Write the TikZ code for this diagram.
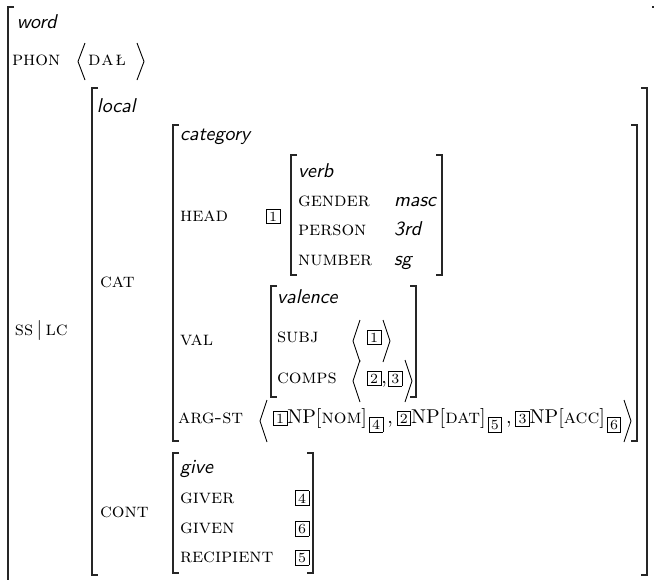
\documentclass[tikz,border=0pt]{standalone}
\usepackage{fontspec}
\newcommand\tg[1]{{\setlength\fboxsep{1.2pt}\setlength\fboxrule{0.4pt}\fbox{\scriptsize #1}}}
\newcommand\stg[1]{\kern1pt\raisebox{-3.2pt}{\tg{#1}}\kern2pt}
\newcommand\ty[1]{\textsf{\itshape #1}}
% left bracket: x, ytop, ybottom
\newcommand\brL[3]{\draw[brk] ({#1+6},#2) -- (#1,#2) -- (#1,#3) -- ({#1+6},#3);}
\newcommand\brR[3]{\draw[brk] ({#1-6},#2) -- (#1,#2) -- (#1,#3) -- ({#1-6},#3);}
\newcommand\anL[3]{\draw[ang] ({#1+7},#2) -- (#1,{(#2+#3)/2}) -- ({#1+7},#3);}
\newcommand\anR[3]{\draw[ang] (#1,#2) -- ({#1+7},{(#2+#3)/2}) -- (#1,#3);}
\begin{document}
\begin{tikzpicture}[x=0.5pt,y=-0.5pt,
  every node/.style={inner sep=0pt,outer sep=0pt,anchor=base west},
  brk/.style={line width=0.8pt,color=black!85},
  ang/.style={line width=0.45pt}]
\useasboundingbox (0,0) rectangle (654,579);
\clip (0,0) rectangle (654,579);
% outer
\brL{8}{7}{620}
\brR{658}{7}{620}
\node (word) at (17,28) {\ty{word}};
\node (phon) at (12,65) {\textsc{phon}};
\anL{78}{43}{80}
\node (dal) at (88,65) {\textsc{d}\kern0.5pt\textsc{a}\kern1pt\textsc{ł}};
\anR{137}{43}{80}
\node (sslc) at (15,335) {\textsc{ss}\,$|$\,\textsc{lc}};
% local
\brL{92}{88}{575}
\brR{647}{88}{575}
\node (local) at (97,112) {\ty{local}};
\node (cat) at (100,287) {\textsc{cat}};
\node (cont) at (100,517) {\textsc{cont}};
% category
\brL{173}{125}{441}
\brR{637}{125}{441}
\node (category) at (180,140) {\ty{category}};
\node (head) at (180,221) {\textsc{head}};
\node (t1) at (266,221) {\tg{1}};
% verb
\brL{291}{155}{275}
\brR{442}{155}{275}
\node (verb) at (298,177) {\ty{verb}};
\node (gender) at (298,206) {\textsc{gender}};
\node (masc) at (394,206) {\ty{masc}};
\node (person) at (298,235) {\textsc{person}};
\node (third) at (394,235) {\ty{3rd}};
\node (number) at (298,265) {\textsc{number}};
\node (sg) at (394,265) {\ty{sg}};
% valence
\node (val) at (180,345) {\textsc{val}};
\brL{271}{286}{397}
\brR{416}{286}{397}
\node (valence) at (277,303) {\ty{valence}};
\node (subj) at (277,342) {\textsc{subj}};
\anL{353}{320}{362}
\node (subjv) at (367,342) {\tg{1}};
\anR{383}{320}{362}
\node (comps) at (277,383) {\textsc{comps}};
\anL{353}{360}{402}
\node (compsv) at (367,383) {\tg{2},\kern0.6pt\tg{3}};
\anR{405}{360}{402}
% arg-st
\node (argst) at (178,423) {\textsc{arg-st}};
\anL{260}{400}{442}
\node (argv) at (273,423) {\tg{1}NP[\textsc{nom}]\stg{4},\kern1.9pt\tg{2}NP[\textsc{dat}]\stg{5},\kern1.9pt\tg{3}NP[\textsc{acc}]\stg{6}};
\anR{624}{400}{442}
% give
\brL{173}{453}{573}
\brR{313}{453}{573}
\node (give) at (180,473) {\ty{give}};
\node (giver) at (180,503) {\textsc{giver}};
\node (t4) at (295,503) {\tg{4}};
\node (given) at (180,533) {\textsc{given}};
\node (t6) at (295,533) {\tg{6}};
\node (recip) at (180,562) {\textsc{recipient}};
\node (t5) at (295,562) {\tg{5}};
\end{tikzpicture}
\end{document}
